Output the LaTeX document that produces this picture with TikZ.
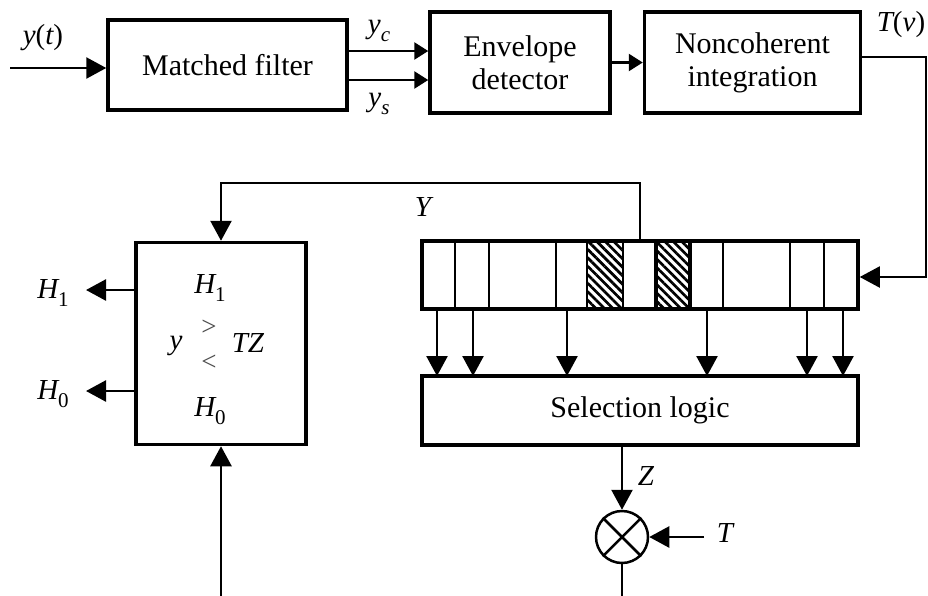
\documentclass[tikz,border=0pt]{standalone}
\usepackage{fontspec}
\setmainfont{Liberation Serif}
\usetikzlibrary{arrows.meta,patterns.meta}

% lowered index helper for subscripts
\newcommand{\lowsub}[1]{\raisebox{-0.3em}{\fontsize{21}{21}\selectfont #1}}

\begin{document}
\begin{tikzpicture}[x=1pt,y=-1pt,
  font=\fontsize{30}{34}\selectfont,
  blk/.style={draw, rectangle, line width=3.5pt, inner sep=0pt, align=center},
  wire/.style={line width=2.5pt},
  thinwire/.style={line width=2pt},
  arr/.style={wire, -{Triangle[length=20pt,width=21pt]}},
  sarr/.style={wire, -{Triangle[length=14pt,width=17pt]}},
  lbl/.style={font=\fontsize{29}{30}\selectfont\itshape, inner sep=0pt},
  cmp/.style={inner sep=0pt, font=\fontsize{27}{27}\selectfont, text=black!70},
  hatch/.style={pattern={Lines[angle=-45,distance=6pt,line width=2.7pt]}}]

\useasboundingbox (0,0) rectangle (928,595);

% ---- top chain ----
\node[blk, minimum width=239pt, minimum height=90pt] (mf) at (227.5,65) {Matched filter};
\node[blk, minimum width=180pt, minimum height=101pt] (env) at (520,62.5) {Envelope\\[-1pt]detector};
\node[blk, minimum width=216pt, minimum height=101pt] (nc) at (752.5,62.5) {Noncoherent\\[-1pt]integration};

\coordinate (yin) at (10,68);
\draw[arr] (yin) -- (yin -| mf.west);
\node[lbl] (lyt) at (43,38) {y\upshape(\itshape t\upshape)};

\draw[sarr] (mf.east |- 0,51) -- (env.west |- 0,51);
\draw[sarr] (mf.east |- 0,80) -- (env.west |- 0,80);
\node[lbl] (lyc) at (379,31) {y\lowsub{c}};
\node[lbl] (lys) at (379,104) {y\lowsub{s}};

\draw[sarr] (env.east) -- (nc.west);

% ---- range-cell register ----
\node[blk, minimum width=436pt, minimum height=68pt] (reg) at (640,275) {};
\fill[hatch] (587,243) rectangle (623,307);
\fill[hatch] (656,243) rectangle (690,307);
\foreach \x in {455,489,556,587,623,723,790,824}
  \draw[wire] (\x,241) -- (\x,309);
\draw[line width=4pt] (656,241) rectangle (690,309);
\draw[line width=3.5pt] (422,241) rectangle (858,309);

\coordinate (tv1) at (926,57);
\coordinate (tv2) at (926,277);
\draw[thinwire, -{Triangle[length=20pt,width=21pt]}] (nc.east |- tv1) -- (tv1) -- (tv2) -- (tv2 -| reg.east);
\node[lbl] (ltv) at (901,25) {T\upshape(\itshape v\upshape)};

% ---- selection logic ----
\node[blk, minimum width=436pt, minimum height=69pt] (sel) at (640,410.5) {Selection logic};
\foreach \x in {437,473,567,707,807,843}
  \draw[arr] (\x,309) -- (\x,376);

% ---- multiplier ----
\node[draw, circle, line width=2.5pt, minimum size=52pt, inner sep=0pt] (mult) at (622,537) {};
\draw[line width=2.5pt] (mult.north west) -- (mult.south east) (mult.north east) -- (mult.south west);
\draw[arr] (sel.south -| mult) -- (mult.north);
\node[lbl] (lz) at (646,476) {Z};
\coordinate (tin) at (704,537);
\draw[arr] (tin) -- (mult.east);
\node[lbl] (lt) at (725,533) {T};

% ---- decision box ----
\node[blk, minimum width=170pt, minimum height=202pt] (dec) at (221,343.5) {};
\node[lbl] (dh1) at (210,288) {H\lowsub{\upshape 1}};
\node[lbl] (dy) at (176,346) {y};
\node[cmp] (dgt) at (209,328) {>};
\node[cmp] (dlt) at (209,363) {<};
\node[lbl] (dtz) at (248,343) {TZ};
\node[lbl] (dh0) at (210,411) {H\lowsub{\upshape 0}};

\coordinate (fb1) at (640,183);
\draw[wire, -{Triangle[length=20pt,width=21pt]}] (reg.north) -- (fb1) -- (fb1 -| dec.north) -- (dec.north);
\node[lbl] (ly) at (423,207) {Y};

\coordinate (h1o) at (86,290);
\coordinate (h0o) at (86,391);
\draw[arr] (dec.west |- h1o) -- (h1o);
\draw[arr] (dec.west |- h0o) -- (h0o);
\node[lbl] (lh1) at (53,293) {H\lowsub{\upshape 1}};
\node[lbl] (lh0) at (53,394) {H\lowsub{\upshape 0}};

% ---- threshold return path (runs along the lower edge) ----
\coordinate (bot) at (622,597);
\draw[wire, -{Triangle[length=20pt,width=21pt]}] (mult.south) -- (bot) -- (bot -| dec.south) -- (dec.south);

\end{tikzpicture}
\end{document}
